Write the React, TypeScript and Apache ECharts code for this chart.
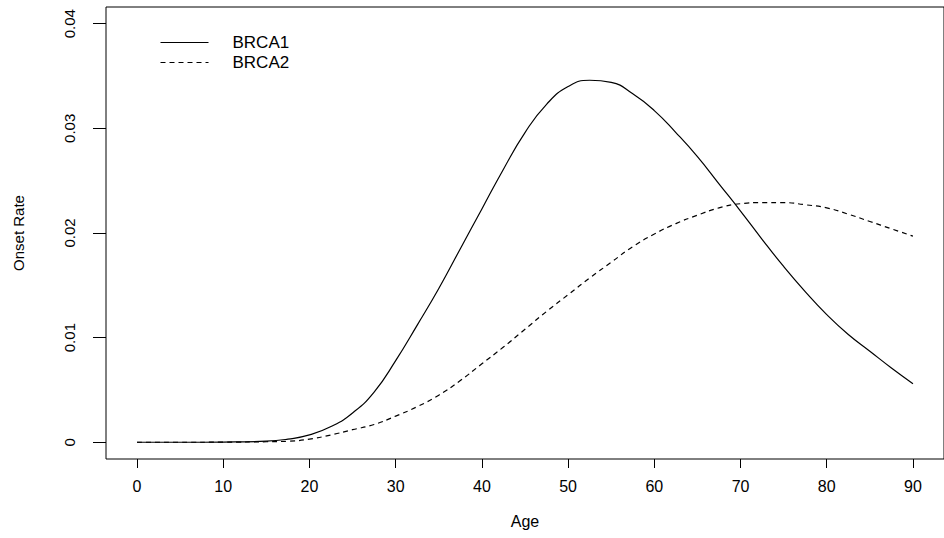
import React, { useEffect, useRef } from "react";
import * as echarts from "echarts";

const ages = [0, 5, 10, 15, 17.5, 20, 22.5, 25, 27.5, 30, 32.5, 35, 37.5, 40, 42.5, 45, 47.5, 50, 52.5, 55, 57.5, 60, 62.5, 65, 67.5, 70, 72.5, 75, 77.5, 80, 82.5, 85, 87.5, 90];
const brca1 = [0, 0, 0.00002, 0.0001, 0.0003, 0.0007, 0.0015, 0.0028, 0.0048, 0.0078, 0.0112, 0.0147, 0.0185, 0.0223, 0.0261, 0.0296, 0.0323, 0.034, 0.0346, 0.0344, 0.0333, 0.0317, 0.0296, 0.0273, 0.0247, 0.0221, 0.0194, 0.0168, 0.0144, 0.0122, 0.0103, 0.0087, 0.0071, 0.0056];
const brca2 = [0, 0, 0.00001, 0.00005, 0.0001, 0.0003, 0.0007, 0.0012, 0.0017, 0.0025, 0.0034, 0.0045, 0.0059, 0.0075, 0.0091, 0.0108, 0.0125, 0.0141, 0.0157, 0.0172, 0.0187, 0.0199, 0.0209, 0.0217, 0.0224, 0.0228, 0.0229, 0.0229, 0.0227, 0.0224, 0.0218, 0.0211, 0.0204, 0.0197];
const xTicks = [0, 10, 20, 30, 40, 50, 60, 70, 80, 90];
const yTicks = [0, 0.01, 0.02, 0.03, 0.04];
const seriesNames = ["BRCA1", "BRCA2"];

const FONT = '"Liberation Sans", Arial, Helvetica, sans-serif';

export default function App() {
  const ref = useRef<HTMLDivElement>(null);
  useEffect(() => {
    const chart = echarts.init(ref.current!, undefined, { renderer: "svg" });
    const pairs = (ys: number[]) => ages.map((a, i) => [a, ys[i]]);
    chart.setOption({
      animation: false,
      backgroundColor: "#fff",
      textStyle: { fontFamily: FONT, color: "#000" },
      legend: {
        orient: "vertical",
        left: 160,
        top: 34,
        padding: 0,
        itemWidth: 48,
        itemHeight: 14,
        itemGap: 3,
        data: seriesNames,
        itemStyle: { opacity: 0, borderWidth: 0 },
        lineStyle: { width: 1 },
        textStyle: { fontFamily: FONT, fontSize: 17, lineHeight: 17, color: "#000", padding: [0, 0, 0, 19] },
      },
      grid: {
        left: 106,
        top: 7,
        width: 844,
        height: 452,
        show: true,
        borderColor: "#000",
        borderWidth: 1,
        backgroundColor: "transparent",
      },
      xAxis: {
        type: "value",
        min: -3.6,
        max: 93.6,
        name: "Age",
        nameLocation: "middle",
        nameGap: 54,
        nameTextStyle: { fontFamily: FONT, fontSize: 16, color: "#000" },
        axisLine: { show: false, onZero: false },
        splitLine: { show: false },
        axisTick: {
          show: true,
          length: 9,
          customValues: xTicks,
          lineStyle: { color: "#000", width: 1 },
        },
        axisLabel: {
          customValues: xTicks,
          margin: 19,
          fontFamily: FONT,
          fontSize: 16,
          color: "#000",
        },
      },
      yAxis: {
        type: "value",
        min: -0.0016,
        max: 0.0416,
        name: "Onset Rate",
        nameLocation: "middle",
        nameRotate: 90,
        nameGap: 80,
        nameTextStyle: { fontFamily: FONT, fontSize: 15, color: "#000" },
        axisLine: { show: false, onZero: false },
        splitLine: { show: false },
        axisTick: {
          show: true,
          length: 13,
          customValues: yTicks,
          lineStyle: { color: "#000", width: 1 },
        },
        axisLabel: {
          customValues: yTicks,
          rotate: 90,
          margin: 29,
          fontFamily: FONT,
          fontSize: 15,
          color: "#000",
          formatter: (v: number) => String(v),
        },
      },
      series: [
        {
          name: seriesNames[0],
          type: "line",
          data: pairs(brca1),
          symbol: "none",
          smooth: 0.5,
          lineStyle: { color: "#000", width: 1.2, type: "solid" },
          itemStyle: { color: "#000" },
        },
        {
          name: seriesNames[1],
          type: "line",
          data: pairs(brca2),
          symbol: "none",
          smooth: 0.5,
          lineStyle: { color: "#000", width: 1.2, type: [5, 4] },
          itemStyle: { color: "#000" },
        },
      ],
    });
    return () => chart.dispose();
  }, []);
  return (
    <div
      ref={ref}
      style={{ position: "fixed", left: 0, top: 0, width: 944, height: 538, background: "#fff" }}
    />
  );
}
